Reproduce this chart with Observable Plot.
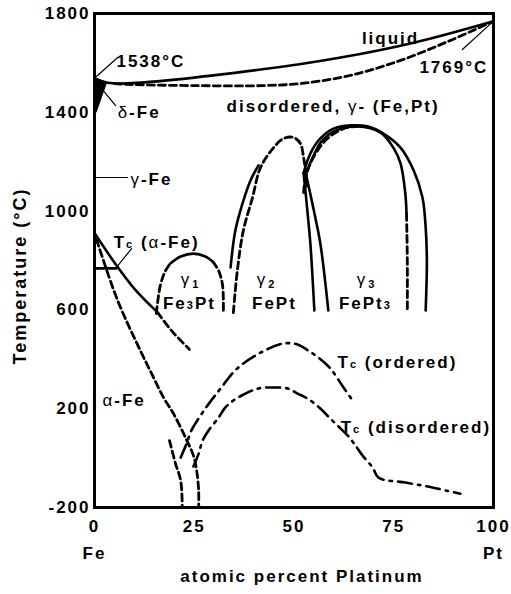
<!DOCTYPE html>
<html><head><meta charset="utf-8">
<script src="https://cdn.jsdelivr.net/npm/d3@7"></script>
<script src="https://cdn.jsdelivr.net/npm/@observablehq/plot@0.6"></script>
<style>
body{margin:0;background:#fff;}
svg text{letter-spacing:2px;}
</style></head><body><div id="chart"></div><script>
// ---- tick labels ----
const xTicks = [0, 25, 50, 75, 100];
const yTicks = [-200, 200, 600, 1000, 1400, 1800];
const endLabels = ["Fe", "Pt"];

// ---- curves: [at% Pt, temperature °C] ----
const liquidus = [[0,1538],[3,1521],[8.3,1517],[41.6,1573],[61.7,1622],[80,1682],[100,1769]];
const solidus = [[5,1516],[8.3,1513],[25,1508],[42,1508],[52,1517],[64,1549],[76.7,1610],[89.2,1691],[100,1769]];
const deltaWedge = [[0,1540],[3.0,1520],[0.4,1400],[0,1394],[0,1540]];
const alphaGamma = [[0,912],[5.3,785],[10.3,680],[15.8,590]];
const alphaGammaExt = [[15.8,590],[19.3,516],[23.8,440]];
const curieAlphaFe = [[0,768],[5.5,768]];
const alphaBoundary = [[0.5,885],[5.8,638],[11.5,435],[14.8,326],[17.3,245],[19.8,180],[22.8,83],[24.8,10],[25.6,-50],[26.1,-131],[26.1,-200]];
const alphaBoundary2 = [[18.8,71],[20.3,-22],[21.6,-91],[22.0,-200]];
const tcOrdered = [[21.6,2],[23.1,59],[24.3,112],[27.8,201],[31.6,282],[35.8,363],[41.6,427],[47.4,464],[50.9,460],[53.6,435],[56.1,407],[59.1,363],[62.4,286],[64.7,233]];
const tcDisordered = [[24.8,-34],[26.1,18],[27.1,71],[28.6,112],[31.1,164],[32.8,205],[34.8,233],[38.3,265],[41.1,282],[44.6,286],[48.4,282],[50.9,261],[53.4,241],[56.6,201],[58.6,168],[60.9,132],[63.7,87],[65.4,51],[67.2,10],[69.7,-38],[71.2,-79],[77.9,-99],[82.2,-111],[84.7,-119],[88.0,-131],[91.7,-144]];
const g1Left = [[15.5,585],[16.5,699],[17.8,759],[19.0,788]];
const g1Top = [[19.0,788],[21.6,816],[24.8,828],[27.8,816],[29.6,796]];
const g1Right = [[29.6,796],[31.1,759],[32.1,699],[32.3,598]];
const g2SolidLeft = [[34.1,772],[35.3,921],[37.1,1031],[39.1,1124],[41.1,1185]];
const g2Dashed = [[34.8,589],[35.8,759],[37.3,921],[39.6,1055],[41.6,1176],[44.9,1257],[47.4,1294],[49.9,1298],[51.6,1274],[52.4,1217],[52.9,1164],[53.1,1100]];
const g2Right = [[52.4,1155],[53.3,1010],[54.1,869],[55.1,598]];
const g3Left = [[53.0,1150],[55.0,1000],[56.6,869],[58.6,598]];
const g3Outer = [[52.4,1155],[54.1,1233],[56.6,1294],[59.9,1334],[64.2,1347],[68.4,1343],[72.4,1314],[76.7,1257],[80.0,1164],[82.2,1055],[83.0,934],[83.3,800],[83.0,598]];
const g3Inner = [[53.0,1150],[54.9,1225],[57.1,1286],[60.4,1326],[65.9,1343],[71.7,1318],[74.9,1257],[76.7,1193],[77.9,1071],[78.2,990]];
const g3InnerDashed = [[78.2,990],[78.4,800],[78.4,598]];
const g3OrderDashed = [[52.4,1075],[52.9,1136],[54.1,1193],[55.9,1245],[58.4,1294],[62.4,1334],[65.9,1343]];

// ---- leader lines ----
const leader1538 = [[0,1538],[5.8,1622]];
const leaderDelta = [[2.0,1492],[5.3,1427]];
const leaderGamma = [[0,1136],[8.3,1136]];
const leader1769 = [[100,1769],[92.2,1654]];
const leaderTc = [[5.5,772],[9.3,848]];

// ---- annotations ----
const labelsStart = [
  {text:"1538°C", a:5.5, t:1606},
  {text:"δ-Fe", a:5.8, t:1399},
  {text:"γ-Fe", a:9.0, t:1128},
  {text:"disordered, γ- (Fe,Pt)", a:33.1, t:1423},
  {text:"T_c (α-Fe)", a:4.8, t:873},
  {text:"α-Fe", a:2.0, t:233},
  {text:"T_c (ordered)", a:60.9, t:387},
  {text:"T_c (disordered)", a:61.7, t:124}
];
const labelsMiddle = [
  {text:"liquid", a:74.2, t:1700},
  {text:"γ_1", a:24.1, t:723},
  {text:"Fe_3Pt", a:23.8, t:626},
  {text:"γ_2", a:43.1, t:723},
  {text:"FePt", a:45.1, t:626},
  {text:"γ_3", a:68.2, t:723},
  {text:"FePt_3", a:67.9, t:626}
];
const labelsEnd = [
  {text:"1769°C", a:98.7, t:1581}
];

const X = d => d[0], Y = d => d[1];
const solid = (data, curve="catmull-rom") => Plot.line(data, {x:X, y:Y, stroke:"black", strokeWidth:2.6, curve});
const dashed = (data) => Plot.line(data, {x:X, y:Y, stroke:"black", strokeWidth:2.8, strokeDasharray:"7,4", curve:"catmull-rom"});
const dashdot = (data) => Plot.line(data, {x:X, y:Y, stroke:"black", strokeWidth:2.6, strokeDasharray:"14,6,2.5,6", curve:"catmull-rom"});
const thin = (data) => Plot.line(data, {x:X, y:Y, stroke:"black", strokeWidth:1.2});
const txt = (data, anchor) => Plot.text(data, {x:"a", y:"t", text:"text", textAnchor:anchor, fontSize:17, fontWeight:"bold", fill:"black"});

const chart = Plot.plot({
  width: 511, height: 594,
  marginLeft: 94, marginRight: 18, marginTop: 13, marginBottom: 87,
  x: {domain:[0,100]},
  y: {domain:[-200,1800]},
  style: {fontFamily:"'Liberation Sans', Arial, sans-serif", background:"white", color:"black"},
  marks: [
    Plot.axisY(yTicks, {tickSize:0, tickPadding:4, fontSize:17, fontWeight:"bold", label:null, tickFormat:d => String(d)}),
    Plot.axisX(xTicks, {tickSize:0, tickPadding:12, fontSize:17, fontWeight:"bold", label:null, tickFormat:d => String(d)}),
    Plot.axisX([0,100], {tickSize:0, tickPadding:39, fontSize:17, fontWeight:"bold", label:null, tickFormat:d => d === 0 ? endLabels[0] : endLabels[1]}),
    Plot.text(["Temperature (°C)"], {frameAnchor:"left", rotate:-90, textAnchor:"middle", lineAnchor:"middle", fontSize:18, fontWeight:"bold"}),
    Plot.text(["atomic percent Platinum"], {frameAnchor:"bottom", dx:8, dy:74, fontSize:17, fontWeight:"bold"}),
    Plot.line(deltaWedge, {x:X, y:Y, fill:"black", stroke:"black", strokeWidth:1}),
    solid(liquidus),
    dashed(solidus),
    solid(alphaGamma),
    dashed(alphaGammaExt),
    solid(curieAlphaFe, "linear"),
    dashed(alphaBoundary),
    dashed(alphaBoundary2),
    dashdot(tcOrdered),
    dashdot(tcDisordered),
    dashed(g1Left), solid(g1Top), dashed(g1Right),
    dashed(g2Dashed), solid(g2SolidLeft),
    solid(g2Right), solid(g3Left),
    dashed(g3OrderDashed),
    solid(g3Outer), solid(g3Inner), dashed(g3InnerDashed),
    thin(leader1538), thin(leaderDelta), thin(leaderGamma), thin(leader1769), thin(leaderTc),
    Plot.frame({stroke:"black", strokeWidth:3}),
    txt(labelsStart, "start"),
    txt(labelsMiddle, "middle"),
    txt(labelsEnd, "end")
  ]
});

// place the rotated y-axis title beside the axis
d3.select(chart).selectAll("text").each(function() {
  if (this.textContent === "Temperature (°C)") {
    if (this.parentNode && this.parentNode.tagName === "g") this.parentNode.removeAttribute("transform");
    this.removeAttribute("x"); this.removeAttribute("y");
    this.setAttribute("text-anchor", "middle");
    this.setAttribute("transform", "translate(26,276) rotate(-90)");
  }
});

// rich text: Greek letters regular weight, "_x" = small subscript
d3.select(chart).selectAll("text").each(function() {
  const s = this.textContent;
  if (!/[_αγδ]/.test(s)) return;
  const runs = [];
  for (let i = 0; i < s.length; i++) {
    const ch = s[i];
    if (ch === "_") { runs.push({t:s[i+1], sub:true, greek:false}); i++; continue; }
    const greek = /[αγδ]/.test(ch);
    const last = runs[runs.length-1];
    if (last && !last.sub && last.greek === greek) last.t += ch;
    else runs.push({t:ch, greek, sub:false});
  }
  this.textContent = "";
  let prevGreek = false;
  runs.forEach(r => {
    const ts = d3.select(this).append("tspan").text(r.t);
    if (r.greek) ts.attr("font-weight", "normal");
    if (r.sub) {
      ts.attr("font-size", 11);
      if (prevGreek) ts.attr("dy", 3).attr("dx", 1);
    }
    prevGreek = r.greek;
  });
});

document.getElementById("chart").appendChild(chart);
</script></body></html>
